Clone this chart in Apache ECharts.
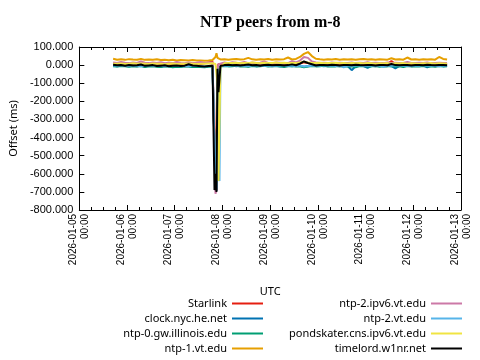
<!DOCTYPE html>
<html>
<head>
<meta charset="utf-8">
<script src="https://cdn.jsdelivr.net/npm/echarts@6/dist/echarts.min.js"></script>
<style>html,body{margin:0;padding:0;background:#fff}#c{width:480px;height:360px}</style>
</head>
<body>
<div id="c"></div>
<script>
// hours since 2026-01-05 00:00 UTC
const hours = [17,19,21,23,25,27,29,31,33,35,37,39,41,43,45,47,49,51,53,55,57,59,61,63,65,67,68,68.5,69,69.5,70,70.5,71,73,75,77,79,81,83,85,87,89,91,93,95,97,99,101,103,105,107,109,111,113,115,117,119,121,123,125,127,129,131,133,135,137,139,141,143,145,147,149,151,153,155,157,159,161,163,165,167,169,171,173,175,177,179,181,183,185];

const tickDays = ['2026-01-05','2026-01-06','2026-01-07','2026-01-08','2026-01-09','2026-01-10','2026-01-11','2026-01-12','2026-01-13'];
const tickTime = '00:00';

const starlink = [5,6,4,7,5,6,4,5,7,6,5,4,6,5,7,4,6,5,4,6,5,7,6,10,15,20,
  20,-680,-690,-10,5,8,
  6,7,5,8,6,7,5,6,8,7,6,5,7,6,8,5,7,6,5,8,9,15,12,7,6,5,7,6,8,5,6,7,5,6,8,7,6,5,7,6,8,5,7,22,6,5,7,6,8,5,7,6,5,8,6,7,5,6];
const clockNyc = [-4,-6,-3,-5,-7,-4,-6,-3,-8,-5,-4,-6,-9,-5,-7,-10,-6,-8,-5,-7,-9,-6,-8,-10,-7,-5,
  -5,-680,-695,-30,-200,-20,
  -6,-3,-5,-4,-6,-3,-5,-7,-4,-6,-3,-5,-4,-6,-3,-8,-5,-4,-6,-3,-5,-9,-6,-4,-5,-3,-6,-4,-5,-3,-6,-4,-5,-28,-6,-4,-5,-15,-4,-6,-3,-5,-4,-6,-18,-4,-5,-3,-6,-4,-5,-3,-12,-4,-5,-3,-6,-4];
const ntp0Illinois = [-6,-8,-5,-7,-9,-6,-8,-5,-10,-7,-6,-9,-11,-7,-8,-12,-9,-10,-7,-8,-11,-9,-10,-12,-9,-7,
  -7,-670,-690,-25,-640,-30,
  -8,-5,-7,-6,-4,-8,-6,-9,-5,-7,-6,-4,-8,-6,-5,-7,-10,-6,-5,-8,-6,-12,-8,-5,-7,-6,-4,-8,-6,-7,-5,-8,-6,-7,-12,-5,-6,-8,-7,-5,-9,-6,-7,-5,-8,-6,-10,-5,-7,-6,-8,-5,-7,-6,-9,-5,-7,-6];
const ntp1Vt = [35,30,32,29,33,31,30,34,29,31,30,32,28,30,27,29,26,28,27,25,28,26,25,24,25,28,
  30,45,65,40,32,30,
  31,33,30,32,34,31,33,40,32,30,33,31,34,30,32,31,33,42,31,34,45,62,72,50,35,32,30,33,31,34,30,32,31,33,30,32,34,31,33,30,32,31,30,38,31,33,30,42,31,33,30,32,31,33,30,45,34,31];
const ntp2Ipv6 = [14,12,18,13,11,15,12,20,13,11,14,12,16,10,13,11,18,12,10,14,11,13,18,12,14,15,
  10,-710,-690,-20,5,10,
  12,14,11,16,13,12,18,11,14,12,13,20,12,11,14,13,12,11,22,15,25,45,40,20,14,12,13,11,14,12,13,11,12,14,11,13,12,16,11,13,12,11,14,12,13,11,12,18,12,11,13,12,14,11,12,13,11,12];
const ntp2Vt = [-2,-4,-1,-3,-5,-2,-4,-6,-3,-1,-4,-2,-5,-3,-7,-4,-2,-6,-3,-5,-4,-2,-6,-8,-5,-4,
  -3,-650,-680,-20,-600,-640,
  -6,-2,-3,-1,-4,-2,-3,-5,-2,-1,-4,-3,-2,-5,-3,-1,-4,-2,-3,-6,-2,-8,-5,-3,-2,-4,-1,-3,-2,-5,-3,-12,-2,-4,-3,-1,-5,-3,-2,-4,-3,-10,-2,-3,-1,-4,-2,-3,-5,-2,-3,-1,-4,-2,-3,-6,-2,-3];
const pondskater = [8,7,9,6,8,10,7,9,8,6,9,7,8,5,7,9,6,8,7,9,8,6,7,8,9,10,
  8,6,5,-100,-640,-650,
  -10,10,12,11,13,10,12,11,14,12,10,13,11,12,14,11,13,10,12,11,14,18,15,12,11,13,10,12,11,13,10,12,9,11,10,12,9,11,10,8,10,9,11,8,10,9,11,8,10,9,8,10,9,11,8,10,9,8];
const timelord = [2,-1,0,-3,1,-2,-1,3,-4,-2,0,-5,-3,-1,-6,-4,-2,-5,-3,5,-2,-4,-6,-8,-5,-3,
  -690,-600,-700,-20,-150,-145,
  -5,0,2,-1,1,-2,0,3,-1,1,-3,0,2,-1,0,1,-2,0,4,-1,8,20,12,5,-2,1,0,-1,2,0,-2,1,0,-1,2,0,-1,1,0,-2,1,0,-1,6,0,-1,1,0,-2,1,0,-1,2,0,-1,1,0,-1];

const seriesNames = ['Starlink','clock.nyc.he.net','ntp-0.gw.illinois.edu','ntp-1.vt.edu','ntp-2.ipv6.vt.edu','ntp-2.vt.edu','pondskater.cns.ipv6.vt.edu','timelord.w1nr.net'];
const seriesValues = [starlink, clockNyc, ntp0Illinois, ntp1Vt, ntp2Ipv6, ntp2Vt, pondskater, timelord];
const colors = ['#e51e10','#0072b2','#009e73','#e69f00','#cc79a7','#56b4e9','#f0e442','#000000'];

const chart = echarts.init(document.getElementById('c'), null, {renderer:'canvas'});

const series = seriesNames.map((name, k) => ({
  name: name,
  type: 'line',
  xAxisIndex: 0,
  yAxisIndex: 0,
  showSymbol: false,
  symbol: 'none',
  animation: false,
  color: colors[k],
  lineStyle: {color: colors[k], width: 2},
  data: hours.map((h, i) => [h, seriesValues[k][i]])
}));

const legendRowsTop = [298, 313, 328, 343];
const legends = seriesNames.map((name, k) => ({
  data: [name],
  orient: 'vertical',
  align: 'right',
  right: k < 4 ? 217 : 18,
  top: legendRowsTop[k % 4],
  icon: 'rect',
  itemWidth: 31,
  itemHeight: 2,
  padding: 0,
  selectedMode: false,
  textStyle: {fontFamily: 'Noto Sans', fontSize: 11, color: '#000'}
}));

const axisLineStyle = {show: true, onZero: false, lineStyle: {color: '#000', width: 1}};

chart.setOption({
  backgroundColor: '#fff',
  animation: false,
  title: {
    text: 'NTP peers from m-8',
    left: 200,
    top: 15,
    padding: 0,
    textStyle: {fontFamily: 'Liberation Serif', fontWeight: 'bold', fontSize: 16, color: '#000'}
  },
  legend: legends,
  grid: {left: 78, right: 19, top: 47, bottom: 150, containLabel: false},
  xAxis: [{
    type: 'value', min: 0, max: 192, interval: 24, position: 'bottom',
    name: 'UTC', nameLocation: 'middle', nameGap: 76,
    nameTextStyle: {fontFamily: 'Noto Sans', fontSize: 11, color: '#000'},
    axisLine: axisLineStyle,
    axisTick: {show: true, inside: true, length: 5, lineStyle: {color: '#000'}},
    minorTick: {show: true, splitNumber: 4, length: 3, lineStyle: {color: '#000'}},
    splitLine: {show: false},
    axisLabel: {
      rotate: 90, margin: 4, fontFamily: 'Liberation Sans', fontSize: 10, color: '#000', lineHeight: 12,
      showMinLabel: true, showMaxLabel: true,
      formatter: v => tickDays[Math.round(v / 24)] + '\n' + tickTime
    }
  }, {
    type: 'value', min: 0, max: 192, interval: 24, position: 'top',
    axisLine: axisLineStyle,
    axisTick: {show: true, inside: true, length: 5, lineStyle: {color: '#000'}},
    minorTick: {show: true, splitNumber: 4, length: 3, lineStyle: {color: '#000'}},
    splitLine: {show: false},
    axisLabel: {show: false}
  }],
  yAxis: [{
    type: 'value', min: -800, max: 100, interval: 100, position: 'left',
    name: 'Offset (ms)', nameLocation: 'middle', nameGap: 58,
    nameTextStyle: {fontFamily: 'Noto Sans', fontSize: 11, color: '#000'},
    axisLine: axisLineStyle,
    axisTick: {show: true, inside: true, length: 5, lineStyle: {color: '#000'}},
    splitLine: {show: false},
    axisLabel: {margin: 6, fontFamily: 'Liberation Sans', fontSize: 11, color: '#000', formatter: v => v.toFixed(3)}
  }, {
    type: 'value', min: -800, max: 100, interval: 100, position: 'right',
    axisLine: axisLineStyle,
    axisTick: {show: true, inside: true, length: 5, lineStyle: {color: '#000'}},
    splitLine: {show: false},
    axisLabel: {show: false}
  }],
  series: series
});
</script>
</body>
</html>
